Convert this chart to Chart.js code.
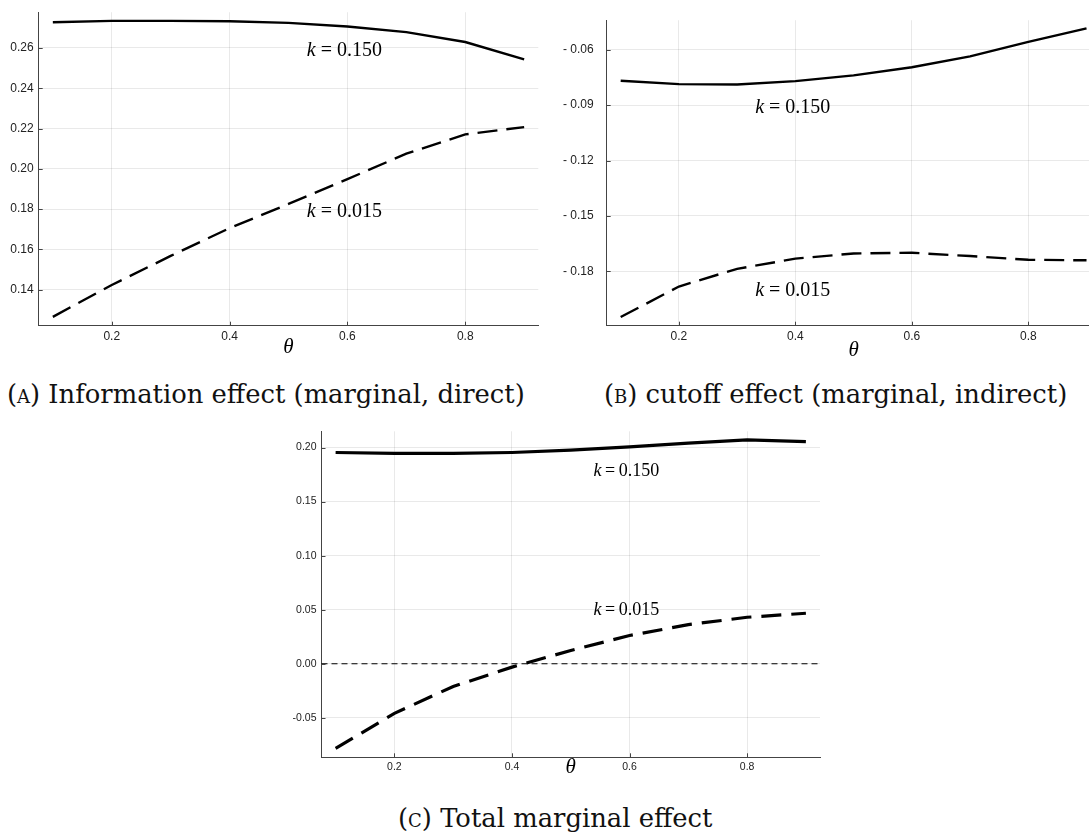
<!DOCTYPE html>
<html><head><meta charset="utf-8">
<script src="https://cdn.jsdelivr.net/npm/chart.js@4.4.0/dist/chart.umd.min.js"></script>
<style>
html,body{margin:0;padding:0;background:#fff;width:1089px;height:835px;overflow:hidden;position:relative}
canvas{position:absolute}
.cap{position:absolute;font-family:"DejaVu Serif";color:#111;white-space:nowrap;line-height:1}
.sc{font-variant:small-caps}
</style></head><body>
<canvas id="ca" width="545" height="365" style="left:0px;top:0px"></canvas>
<canvas id="cb" width="560" height="365" style="left:545px;top:0px"></canvas>
<canvas id="cc" width="560" height="365" style="left:270px;top:420px"></canvas>
<div class="cap" id="capA">(<span class="sc">a</span>) Information effect (marginal, direct)</div>
<div class="cap" id="capB">(<span class="sc">b</span>) cutoff effect (marginal, indirect)</div>
<div class="cap" id="capC">(<span class="sc">c</span>) Total marginal effect</div>
<script>
// ---- data ----
const theta = [0.1, 0.2, 0.3, 0.4, 0.5, 0.6, 0.7, 0.8, 0.9];
const infoHigh = [0.2727, 0.2734, 0.2734, 0.2732, 0.2724, 0.2706, 0.2678, 0.2629, 0.2543];
const infoLow  = [0.1266, 0.1424, 0.1568, 0.1706, 0.1826, 0.1949, 0.2075, 0.2171, 0.2207];
const cutHigh  = [-0.0768, -0.0786, -0.0788, -0.0770, -0.0739, -0.0695, -0.0636, -0.0557, -0.0484];
const cutLow   = [-0.2047, -0.1882, -0.1786, -0.1731, -0.1703, -0.1699, -0.1717, -0.1737, -0.1740];
const totHigh  = [0.1954, 0.1945, 0.1945, 0.1954, 0.1975, 0.2006, 0.2040, 0.2070, 0.2055];
const totLow   = [-0.0782, -0.0459, -0.0210, -0.0031, 0.0123, 0.0261, 0.0362, 0.0430, 0.0467];

const xTicks = [0.2, 0.4, 0.6, 0.8];
const xTickLabels = ["0.2", "0.4", "0.6", "0.8"];
const yTicksA = [0.14, 0.16, 0.18, 0.20, 0.22, 0.24, 0.26];
const yTickLabelsA = ["0.14", "0.16", "0.18", "0.20", "0.22", "0.24", "0.26"];
const yTicksB = [-0.18, -0.15, -0.12, -0.09, -0.06];
const yTickLabelsB = ["- 0.18", "- 0.15", "- 0.12", "- 0.09", "- 0.06"];
const yTicksC = [-0.05, 0.00, 0.05, 0.10, 0.15, 0.20];
const yTickLabelsC = ["-0.05", "0.00", "0.05", "0.10", "0.15", "0.20"];

const xTitle = "\u03B8";

// ---- helpers ----
function pts(ys){ return theta.map((t,i)=>({x:t, y:ys[i]})); }

const extras = {
  id: 'extras',
  afterDatasetsDraw(chart, args, o){
    const ctx = chart.ctx, xs = chart.scales.x, ys = chart.scales.y, ca = chart.chartArea;
    ctx.save();
    if (o.zeroLine){
      const py = ys.getPixelForValue(0);
      ctx.beginPath(); ctx.setLineDash([6,4]); ctx.lineWidth = 1.1; ctx.strokeStyle = '#000';
      ctx.moveTo(ca.left, py); ctx.lineTo(ca.right, py); ctx.stroke(); ctx.setLineDash([]);
    }
    ctx.strokeStyle = '#444'; ctx.lineWidth = 1;
    xs.ticks.forEach(t=>{ const px = Math.round(xs.getPixelForValue(t.value))+0.5;
      ctx.beginPath(); ctx.moveTo(px, ca.bottom); ctx.lineTo(px, ca.bottom-4); ctx.stroke(); });
    ys.ticks.forEach(t=>{ const py = Math.round(ys.getPixelForValue(t.value))+0.5;
      ctx.beginPath(); ctx.moveTo(ca.left, py); ctx.lineTo(ca.left+4, py); ctx.stroke(); });
    ctx.fillStyle = '#000'; ctx.textBaseline = 'middle'; ctx.textAlign = 'left';
    o.labels.forEach(l=>{
      let px = xs.getPixelForValue(l.x), py = ys.getPixelForValue(l.y);
      ctx.font = 'italic ' + o.labelSize + 'px "Liberation Serif"';
      ctx.fillText('k', px, py);
      px += ctx.measureText('k').width;
      ctx.font = o.labelSize + 'px "Liberation Serif"';
      ctx.fillText(l.rest, px, py);
    });
    ctx.font = 'italic ' + o.thetaSize + 'px "Liberation Serif"';
    ctx.textAlign = 'center';
    ctx.fillText(xTitle, (ca.left+ca.right)/2, ca.bottom + o.thetaOff);
    ctx.restore();
  }
};

function makePanel(id, cfg){
  const tickFont = {family: '"Liberation Sans"', size: cfg.tickSize};
  new Chart(document.getElementById(id), {
    type: 'line',
    data: { datasets: [
      {data: pts(cfg.high), borderColor:'#000', borderWidth: cfg.lw, pointRadius:0, tension:0, fill:false},
      {data: pts(cfg.low), borderColor:'#000', borderWidth: cfg.lw, borderDash: cfg.dash, pointRadius:0, tension:0, fill:false}
    ]},
    options: {
      responsive:false, animation:false, devicePixelRatio:1,
      layout:{padding:{left:0, top:cfg.padTop, right:cfg.padRight, bottom:0}},
      plugins:{legend:{display:false}, tooltip:{enabled:false},
        extras:{labels: cfg.labels, labelSize: cfg.labelSize, thetaSize: 21, thetaOff: cfg.thetaOff, zeroLine: cfg.zeroLine}},
      scales:{
        x:{type:'linear', min:0.076, max:0.924,
          afterBuildTicks: s=>{ s.ticks = xTicks.map(v=>({value:v})); },
          afterFit: s=>{ s.height = cfg.xH; },
          ticks:{callback:(v,i)=>xTickLabels[i], font:tickFont, color:'#222', padding:cfg.xPad, maxRotation:0, autoSkip:false},
          grid:{color:'rgba(0,0,0,0.085)', drawTicks:false},
          border:{display:true, color:'#444', width:1}},
        y:{type:'linear', min:cfg.ymin, max:cfg.ymax,
          afterBuildTicks: s=>{ s.ticks = cfg.yt.map(v=>({value:v})); },
          afterFit: s=>{ s.width = cfg.yW; },
          ticks:{callback:(v,i)=>cfg.ytl[i], font:tickFont, color:'#222', padding:cfg.yPad, autoSkip:false},
          grid:{color:'rgba(0,0,0,0.085)', drawTicks:false},
          border:{display:true, color:'#444', width:1}}
      }
    },
    plugins:[extras]
  });
}

makePanel('ca', {high: infoHigh, low: infoLow, ymin:0.1222, ymax:0.2777, yt:yTicksA, ytl:yTickLabelsA,
  yW:38.7, xH:39.3, padTop:8.3, padRight:6.7, tickSize:12, xPad:4, yPad:5, lw:2.4, dash:[20,9],
  labelSize:20, thetaOff:22, zeroLine:false,
  labels:[{x:0.531, y:0.2588, rest:' = 0.150'},{x:0.531, y:0.1789, rest:' = 0.015'}]});

makePanel('cb', {high: cutHigh, low: cutLow, ymin:-0.2094, ymax:-0.0440, yt:yTicksB, ytl:yTickLabelsB,
  yW:61.7, xH:39.3, padTop:8.3, padRight:4.5, tickSize:12, xPad:4, yPad:13, lw:2.4, dash:[20,9],
  labelSize:20, thetaOff:25, zeroLine:false,
  labels:[{x:0.331, y:-0.0912, rest:' = 0.150'},{x:0.331, y:-0.1904, rest:' = 0.015'}]});

makePanel('cc', {high: totHigh, low: totLow, ymin:-0.0865, ymax:0.2150, yt:yTicksC, ytl:yTickLabelsC,
  yW:51.5, xH:27.7, padTop:10, padRight:10, tickSize:10.5, xPad:4, yPad:5, lw:3.2, dash:[20,10],
  labelSize:18, thetaOff:10, zeroLine:true,
  labels:[{x:0.5385, y:0.1782, rest:'\u2009=\u20090.150'},{x:0.5385, y:0.0494, rest:'\u2009=\u20090.015'}]});

// ---- captions ----
(function(){
  const a = document.getElementById('capA'), b = document.getElementById('capB'), c = document.getElementById('capC');
  [a,b,c].forEach(e=>e.style.fontSize='20px');
  const size = 20 * 518 / a.offsetWidth;
  [a,b,c].forEach(e=>e.style.fontSize=size+'px');
  function place(e, cx, cy){ e.style.left = (cx - e.offsetWidth/2)+'px'; e.style.top = (cy - e.offsetHeight/2)+'px'; }
  place(a, 266, 395); place(b, 835.5, 395); place(c, 555, 819);
})();
</script>
</body></html>
